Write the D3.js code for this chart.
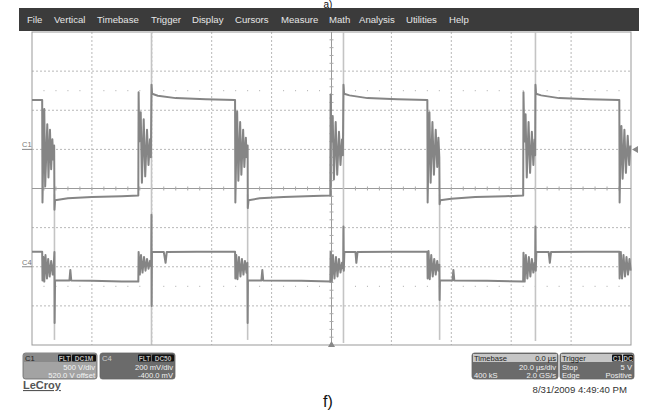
<!DOCTYPE html>
<html><head><meta charset="utf-8">
<script src="https://cdn.jsdelivr.net/npm/d3@7"></script>
<style>body{margin:0;background:#fff}svg{display:block;font-family:"Liberation Sans",Arial,sans-serif}</style>
</head><body>
<svg id="c" width="656" height="415"></svg>
<script>
// ---- data (time in µs, level in screen divisions from centre) ----
const menuItems = ["File","Vertical","Timebase","Trigger","Display","Cursors","Measure","Math","Analysis","Utilities","Help"];
const menuX = [27,54,97,151,192,235,281,329,359,406,449];
const timeTicks = [-100,-80,-60,-40,-20,0,20,40,60,80,100];
const divTicks = [-4,-3,-2,-1,0,1,2,3,4];
const c1Level = 1, c4Level = -2;
const c1Trace = [[-100,2.26],[-96.6,2.26],[-96.5,-0.36],[-96.2,1.0],[-95.9,2.03],[-95.6,0.05],[-94.9,1.64],[-94.5,0.28],[-94.0,1.5],[-93.6,0.49],[-93.2,1.26],[-92.9,0.74],[-92.6,1.1],[-92.5,-0.54],[-92.3,-0.3],[-88,-0.25],[-80,-0.22],[-70,-0.2],[-64.5,-0.18],
 [-64.4,2.46],[-64.2,1.2],[-63.7,1.95],[-63.3,0.15],[-62.7,1.77],[-62.2,0.31],[-61.6,1.5],[-61.1,0.6],[-60.6,1.26],[-60.3,0.8],[-60.1,2.65],[-59.9,2.42],[-58,2.37],[-52,2.31],[-42,2.28],[-32.2,2.26],
 [-32.1,-0.36],[-31.8,1.0],[-31.5,1.97],[-31.1,0.2],[-30.5,1.7],[-30.1,0.35],[-29.5,1.5],[-29.1,0.55],[-28.6,1.3],[-28.3,0.8],[-28.0,1.1],[-27.95,-0.5],[-27.7,-0.3],[-24,-0.25],[-16,-0.22],[-6,-0.19],[-0.4,-0.18],
 [-0.3,2.4],[0,1.2],[0.4,1.85],[0.8,0.23],[1.4,1.7],[1.9,0.35],[2.5,1.45],[3.0,0.6],[3.5,1.25],[3.8,0.85],[4.0,2.65],[4.2,2.42],[6,2.38],[12,2.31],[22,2.28],[32,2.26],
 [32.1,-0.36],[32.4,1.0],[32.7,1.95],[33.1,0.15],[33.7,1.7],[34.2,0.35],[34.8,1.5],[35.3,0.55],[35.7,1.3],[36.0,0.8],[36.1,-0.4],[36.3,-0.3],[40,-0.26],[48,-0.22],[58,-0.2],[64.0,-0.18],
 [64.1,2.46],[64.4,1.2],[64.8,1.9],[65.2,0.28],[65.8,1.7],[66.3,0.4],[66.9,1.45],[67.4,0.6],[67.8,1.25],[68.0,0.85],[68.1,2.65],[68.3,2.42],[70,2.38],[76,2.31],[86,2.28],[96.1,2.26],
 [96.2,-0.36],[96.5,1.0],[96.8,1.6],[97.2,0.25],[97.8,1.5],[98.3,0.4],[98.9,1.35],[99.4,0.6],[99.8,1.1]];
const c4Trace = [[-100,-1.615],[-96.6,-1.615],[-96.5,-2.35],[-96.2,-1.75],[-95.9,-2.38],[-95.5,-1.7],[-95.0,-2.3],[-94.6,-1.8],[-94.1,-2.25],[-93.6,-1.85],[-93.1,-2.2],[-92.7,-1.9],[-92.5,-1.62],[-92.45,-3.44],[-92.3,-2.35],[-87.5,-2.35],[-87.2,-2.08],[-86.9,-2.35],[-80,-2.36],[-70,-2.38],[-64.5,-2.38],
 [-64.4,-1.62],[-64.0,-2.2],[-63.6,-1.7],[-63.1,-2.15],[-62.6,-1.75],[-62.1,-2.1],[-61.6,-1.8],[-61.1,-2.05],[-60.6,-1.85],[-60.2,-2.0],[-60.1,-0.67],[-60.05,-3.0],[-59.95,-1.62],[-56,-1.62],[-55.4,-1.9],[-55.0,-1.62],[-45,-1.615],[-32.2,-1.615],
 [-32.1,-2.3],[-31.8,-1.7],[-31.4,-2.32],[-30.9,-1.75],[-30.4,-2.25],[-29.9,-1.8],[-29.4,-2.2],[-28.9,-1.85],[-28.4,-2.15],[-28.1,-1.9],[-28.0,-3.44],[-27.9,-2.35],[-23.4,-2.35],[-23.1,-2.08],[-22.8,-2.35],[-10,-2.36],[-0.4,-2.38],
 [-0.3,-1.62],[0.1,-2.38],[0.5,-1.7],[1.0,-2.3],[1.5,-1.75],[2.0,-2.25],[2.5,-1.8],[3.0,-2.15],[3.5,-1.9],[3.9,-2.05],[4.0,-0.97],[4.1,-2.1],[4.3,-1.62],[8,-1.62],[8.3,-1.9],[8.7,-1.62],[20,-1.615],[32,-1.615],
 [32.1,-2.3],[32.4,-1.6],[32.8,-2.32],[33.3,-1.7],[33.8,-2.25],[34.3,-1.8],[34.8,-2.2],[35.3,-1.85],[35.7,-2.1],[36.0,-1.95],[36.1,-2.85],[36.2,-2.35],[40.4,-2.35],[40.7,-2.08],[41.0,-2.35],[52,-2.36],[64.0,-2.38],
 [64.1,-1.64],[64.5,-2.38],[64.9,-1.7],[65.4,-2.3],[65.9,-1.75],[66.4,-2.25],[66.9,-1.8],[67.4,-2.15],[67.8,-1.9],[68.0,-2.05],[68.1,-0.97],[68.2,-2.1],[68.4,-1.62],[72.5,-1.62],[72.9,-1.9],[73.3,-1.62],[85,-1.615],[96.1,-1.615],
 [96.2,-2.3],[96.6,-1.62],[97.0,-2.3],[97.5,-1.7],[98.0,-2.25],[98.5,-1.75],[99.0,-2.2],[99.5,-1.8],[99.9,-2.1]];
const edgeTimes = [-92.5,-60.1,-28.0,4.0,36.1,68.1];
const edgeTops = [-0.15,4,-0.15,4,-0.15,4];
const edgeBottoms = [-3.87,-3.98,-3.87,-3.95,-3.87,-3.9];

// ---- drawing ----
const svg = d3.select("#c");
const x = d3.scaleLinear().domain([-100,100]).range([32,631]);
const y = d3.scaleLinear().domain([-4,4]).range([345,32]);

svg.append("text").attr("x",328).attr("y",7.5).attr("text-anchor","middle").attr("font-size",10).attr("fill","#111").text("a)");
svg.append("rect").attr("x",19).attr("y",8).attr("width",620).attr("height",23).attr("fill","#3b3b3b");
svg.selectAll(".mi").data(menuItems).join("text").attr("x",(d,i)=>menuX[i]).attr("y",23)
  .attr("font-size",9.6).attr("fill","#e6e6e6").text(d=>d);

const g = svg.append("g");
// grid
g.selectAll(".gv").data(timeTicks.filter(t=>t!==0 && Math.abs(t)!==100)).join("line")
  .attr("x1",d=>x(d)).attr("x2",d=>x(d)).attr("y1",y(4)).attr("y2",y(-4))
  .attr("stroke","#b8b8b8").attr("stroke-dasharray","2,2");
g.selectAll(".gh").data(divTicks.filter(t=>t!==0 && Math.abs(t)!==4)).join("line")
  .attr("x1",x(-100)).attr("x2",x(100)).attr("y1",d=>y(d)).attr("y2",d=>y(d))
  .attr("stroke","#b8b8b8").attr("stroke-dasharray","2,2");
// centre lines with minor ticks
g.append("line").attr("x1",x(-100)).attr("x2",x(100)).attr("y1",y(0)).attr("y2",y(0)).attr("stroke","#999");
g.append("line").attr("x1",x(0)).attr("x2",x(0)).attr("y1",y(4)).attr("y2",y(-4)).attr("stroke","#999");
const minorT = d3.range(-96,100,4);
g.selectAll(".mt").data(minorT).join("line").attr("x1",d=>x(d)).attr("x2",d=>x(d))
  .attr("y1",y(0)-2).attr("y2",y(0)+2).attr("stroke","#aaa");
const minorD = d3.range(-3.8,4,0.2);
g.selectAll(".md").data(minorD).join("line").attr("y1",d=>y(d)).attr("y2",d=>y(d))
  .attr("x1",x(0)-2).attr("x2",x(0)+2).attr("stroke","#aaa");
// dotted rows
[2.5,-2.5].forEach(lv=>{
  g.selectAll(".dr"+(lv>0?"a":"b")).data(minorT.filter(t=>t%20!==0)).join("rect")
   .attr("x",d=>x(d)-0.5).attr("y",y(lv)-0.5).attr("width",1).attr("height",1).attr("fill","#aaa");
});
g.append("rect").attr("x",x(-100)).attr("y",y(4)).attr("width",x(100)-x(-100)).attr("height",y(-4)-y(4))
  .attr("fill","none").attr("stroke","#999");

// edge lines (light)
g.selectAll(".edge").data(edgeTimes).join("line")
  .attr("x1",d=>x(d)).attr("x2",d=>x(d)).attr("y1",(d,i)=>y(edgeTops[i])).attr("y2",(d,i)=>y(edgeBottoms[i]))
  .attr("stroke","#c4c4c4").attr("stroke-width",1.6);

const line = d3.line().x(d=>x(d[0])).y(d=>y(d[1]));
g.append("path").attr("d",line(c1Trace)).attr("fill","none").attr("stroke","#858585").attr("stroke-width",2).attr("stroke-linejoin","round");
g.append("path").attr("d",line(c4Trace)).attr("fill","none").attr("stroke","#858585").attr("stroke-width",2).attr("stroke-linejoin","round");

// channel markers
[[c1Level,"C1"],[c4Level,"C4"]].forEach(([lv,lab])=>{
  svg.append("text").attr("x",22).attr("y",y(lv)-2).attr("font-size",7.5).attr("fill","#777").text(lab);
  svg.append("line").attr("x1",22).attr("x2",32).attr("y1",y(lv)).attr("y2",y(lv)).attr("stroke","#888");
});
svg.append("path").attr("d",`M${x(100)+1},${y(1)} l6,-3.5 l0,7 z`).attr("fill","#888");
svg.append("path").attr("d",`M${x(0)},${y(-4)-4} l-3.5,6 l7,0 z`).attr("fill","#888");

// info boxes
function box(bx,w,fill,hdrFill){
  svg.append("rect").attr("x",bx).attr("y",353).attr("width",w).attr("height",26).attr("rx",2.5).attr("fill",fill).attr("stroke","#666").attr("stroke-width",0.8);
  if(hdrFill) svg.append("rect").attr("x",bx+1).attr("y",354).attr("width",w-2).attr("height",8).attr("fill",hdrFill);
}
function txt(tx,ty,s,col,anchor){svg.append("text").attr("x",tx).attr("y",ty).attr("font-size",7.6).attr("fill",col).attr("text-anchor",anchor||"start").text(s);}
function badge(bx,w,s){svg.append("rect").attr("x",bx).attr("y",354.5).attr("width",w).attr("height",7).attr("rx",1).attr("fill","#111");
  svg.append("text").attr("x",bx+w/2).attr("y",360.5).attr("font-size",6.5).attr("font-weight","bold").attr("fill","#bbb").attr("text-anchor","middle").text(s);}
box(23,74,"#a3a3a3","#8a8a8a"); txt(25,360.5,"C1","#222"); badge(58,13,"FLT"); badge(72,24,"DC1M");
txt(95,369.5,"500 V/div","#f4f4f4","end"); txt(95,377.5,"520.0 V offset","#f4f4f4","end");
box(100,75,"#6b6b6b","#6b6b6b"); txt(102,360.5,"C4","#ccc"); badge(138,13,"FLT"); badge(152,22,"DC50");
txt(173,369.5,"200 mV/div","#f0f0f0","end"); txt(173,377.5,"-400.0 mV","#f0f0f0","end");
box(472,86,"#6b6b6b","#c6c6c6"); txt(474,360.5,"Timebase","#222"); txt(556,360.5,"0.0 µs","#222","end");
txt(556,369.5,"20.0 µs/div","#f0f0f0","end"); txt(474,377.5,"400 kS","#f0f0f0"); txt(556,377.5,"2.0 GS/s","#f0f0f0","end");
box(560,74,"#6b6b6b","#c6c6c6"); txt(562,360.5,"Trigger","#222"); badge(612,10,"C1"); badge(623,10,"DC");
txt(562,369.5,"Stop","#f0f0f0"); txt(632,369.5,"5 V","#f0f0f0","end"); txt(562,377.5,"Edge","#f0f0f0"); txt(632,377.5,"Positive","#f0f0f0","end");

svg.append("text").attr("x",23).attr("y",389).attr("font-size",11).attr("font-weight","bold").attr("fill","#555").attr("text-decoration","underline").text("LeCroy");
svg.append("text").attr("x",627).attr("y",393).attr("font-size",9.6).attr("fill","#333").attr("text-anchor","end").text("8/31/2009 4:49:40 PM");
svg.append("text").attr("x",328).attr("y",407).attr("font-size",16).attr("fill","#111").attr("text-anchor","middle").text("f)");
</script>
</body></html>
